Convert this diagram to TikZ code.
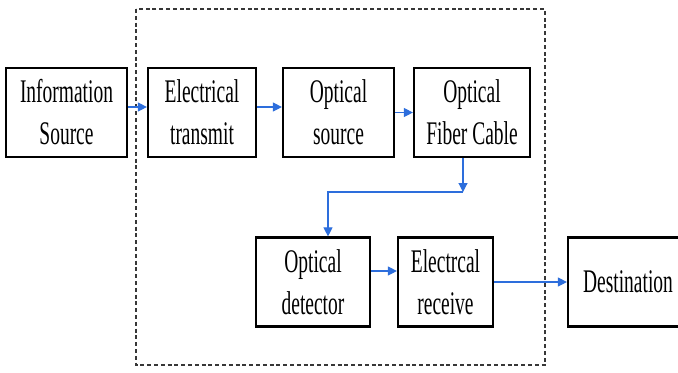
\documentclass[tikz,border=0pt]{standalone}
\usepackage{fontspec}
\setmainfont[FakeStretch=0.59]{Liberation Serif}
\usepackage{tikz}
\usetikzlibrary{arrows.meta,calc,positioning}
\definecolor{LinkBlue}{RGB}{45,110,220}
\definecolor{FrameGray}{RGB}{55,55,55}

\begin{document}
\begin{tikzpicture}[x=0.5pt, y=-0.5pt,
		blk/.style={draw, line width=1.1pt, minimum height=44.5pt, align=center,
			inner sep=0pt, font=\fontsize{16.5}{21}\selectfont},
		link/.style={-{Triangle[length=4.5pt,width=4.5pt]}, LinkBlue, line width=0.55pt}]
			\useasboundingbox (0,0) rectangle (678,372);
			% 虚线框
			\draw[FrameGray, line width=0.55pt, dash pattern=on 2pt off 1.4pt] (136,9) rectangle (545,365);
			% 上排
			\node[blk, minimum width=60.5pt] (info) at (66.5,112.5) {Information\\Source};
			\node[blk, minimum width=54pt] (etx) at (202,112.5) {Electrical\\transmit};
			\node[blk, minimum width=55.5pt] (osrc) at (338.5,112.5) {Optical\\source};
			\node[blk, minimum width=58pt] (fiber) at (472,112.5) {Optical\\Fiber Cable};
			% 下排
			\node[blk, minimum width=57pt] (det) at (313,282) {Optical\\detector};
			\node[blk, minimum width=47.5pt] (rcv) at (445.5,282) {Electrcal\\receive};
			\node[blk, minimum width=60pt] (dest) at (628,282) {Destination};
			% 连线
			\draw[link] ([yshift=2.75pt]info.east) -- ([yshift=2.75pt]etx.west);
			\draw[link] ([yshift=2.75pt]etx.east) -- ([yshift=2.75pt]osrc.west);
			\draw[link] (osrc.east) -- (fiber.west);
			\coordinate (split) at (463,192);
			\draw[link] ([xshift=-4.5pt]fiber.south) -- (split);
			\draw[link] (split) -| ([xshift=7.5pt]det.north);
			\draw[link] ([yshift=5.5pt]det.east) -- ([yshift=5.5pt]rcv.west);
			\draw[link] (rcv.east) -- (dest.west);
		\end{tikzpicture}
\end{document}
